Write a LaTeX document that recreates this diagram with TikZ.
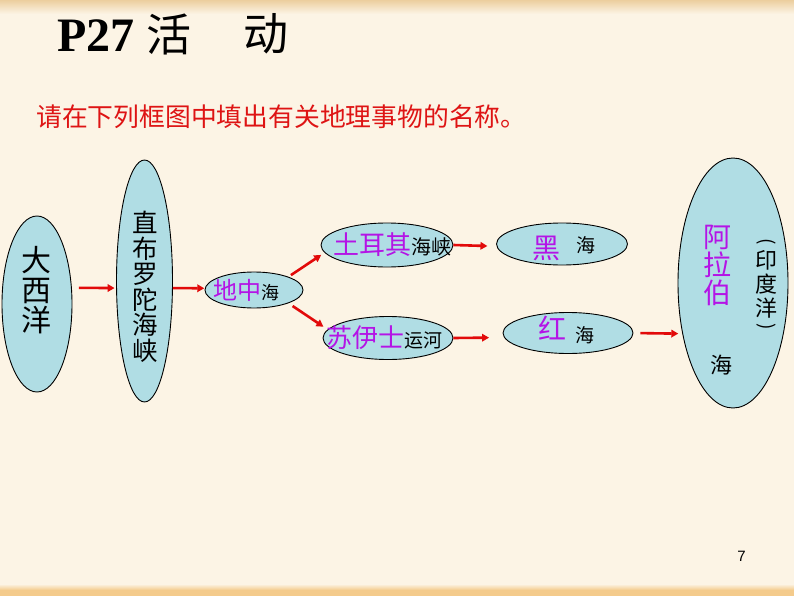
\documentclass[tikz,border=0pt]{standalone}
\usepackage{fontspec}
\setmainfont{Liberation Serif}
\newfontfamily\cjk{Noto Sans CJK SC}
\newfontfamily\arialfont{Liberation Sans}
\usetikzlibrary{shapes.geometric,arrows.meta}
\definecolor{bgcream}{RGB}{252,244,229}
\definecolor{bandtop}{RGB}{236,206,158}
\definecolor{bandbot}{RGB}{244,203,140}
\definecolor{ellblue}{RGB}{176,221,228}
\definecolor{arrred}{RGB}{226,10,10}
\definecolor{subred}{RGB}{222,20,20}
\definecolor{mag}{RGB}{180,20,230}
\newcommand\myfs[1]{\fontsize{#1}{#1}\selectfont}
\begin{document}
\begin{tikzpicture}[x=1pt,y=-1pt,
  ell/.style={ellipse,draw=black,line width=0.9pt,fill=ellblue,inner sep=0pt},
  txt/.style={inner sep=0pt,anchor=center},
  arr/.style={draw=arrred,line width=2.6pt,-{Triangle[length=7pt,width=7.5pt]}},
]
\useasboundingbox (0,0) rectangle (794,596);
\fill[bgcream] (0,0) rectangle (794,596);
\shade[top color=bandtop,bottom color=bgcream] (0,0) rectangle (794,14);
\shade[top color=bgcream,bottom color=bandbot] (0,584) rectangle (794,590);
\fill[bandbot] (0,590) rectangle (794,596);

% title
\node[txt,anchor=base west,font=\bfseries\myfs{48}] (ttl) at (57,52) {P27};
\node[txt,font=\cjk\myfs{45}] (huo) at (169,34) {活};
\node[txt,font=\cjk\myfs{45}] (dong) at (266,34) {动};
\node[txt,anchor=west,text=subred,font=\cjk\myfs{25.8}] (sub) at (36,117) {请在下列框图中填出有关地理事物的名称。};

% ellipses
\node[ell,minimum width=70pt,minimum height=176pt] (atl) at (37,304) {};
\node[ell,minimum width=56pt,minimum height=242pt] (gib) at (144.5,281) {};
\node[ell,minimum width=98pt,minimum height=36pt] (med) at (254,290) {};
\node[ell,minimum width=132pt,minimum height=44pt] (tur) at (387,245) {};
\node[ell,minimum width=131pt,minimum height=42pt] (blk) at (562,244) {};
\node[ell,minimum width=130pt,minimum height=43pt] (suez) at (388,338) {};
\node[ell,minimum width=130pt,minimum height=41pt] (red) at (568,333) {};
\node[ell,minimum width=110pt,minimum height=250pt] (arab) at (733,283) {};

% arrows
\draw[arr,shorten <=7pt,shorten >=1.5pt] (atl.25) -- (gib.194);
\draw[arr,shorten >=0.5pt] (gib.346) -- (med.178);
\draw[arr,shorten <=3pt,shorten >=4pt] (med.21) -- (tur.187);
\draw[arr,shorten <=5pt,shorten >=5pt] (med.-21) -- (suez.172);
\draw[arr,shorten >=9pt] (tur.0) -- (blk.182);
\draw[arr,shorten >=15pt] (suez.0) -- (red.184);
\draw[arr,shorten <=7pt,shorten >=4pt] (red.0) -- (arab.225);

% texts
\node[txt,align=center,font=\cjk\myfs{30}] (tatl) at (36,290) {大\\西\\洋};
\node[txt,align=center,font=\cjk\myfs{25.5}] (tgib) at (145,287) {直\\布\\罗\\陀\\海\\峡};
\node[txt,font=\cjk] (tmed) at (246,290) {{\myfs{24}\color{mag}地中}{\myfs{18}海}};
\node[txt,font=\cjk] (ttur) at (392,245) {{\myfs{26}\color{mag}土耳其}{\myfs{20}海峡}};
\node[txt,font=\cjk] (tsuez) at (384,338) {{\myfs{26}\color{mag}苏伊士}{\myfs{19}运河}};
\node[txt,font=\cjk\myfs{28},text=mag] (tblk) at (546,248) {黑};
\node[txt,font=\cjk\myfs{19}] (tblk2) at (586,245) {海};
\node[txt,font=\cjk\myfs{28},text=mag] (tred) at (552,328) {红};
\node[txt,font=\cjk\myfs{19}] (tred2) at (585,335) {海};
\node[txt,align=center,font=\cjk\myfs{28},text=mag] (tarab) at (717,265) {阿\\拉\\伯};
\node[txt,font=\cjk\myfs{22}] (tarab2) at (721,365) {海};
\node[txt,font=\cjk\myfs{19},rotate=-90] (pl) at (766,242) {(};
\node[txt,font=\cjk\myfs{22}] (yin) at (766,260) {印};
\node[txt,font=\cjk\myfs{22}] (du) at (766,284) {度};
\node[txt,font=\cjk\myfs{22}] (yang) at (766,308) {洋};
\node[txt,font=\cjk\myfs{19},rotate=-90] (pr) at (766,327) {)};
\node[txt,font=\arialfont\myfs{15}] (pg) at (741.5,556.5) {7};
\end{tikzpicture}
\end{document}
